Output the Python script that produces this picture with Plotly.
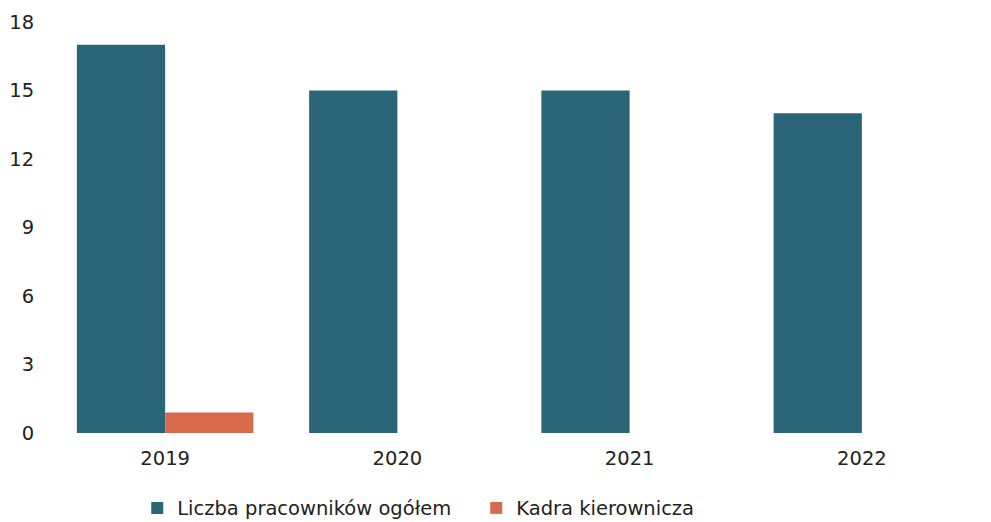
import plotly.graph_objects as go

years = ["2019", "2020", "2021", "2022"]
ogolem = [17, 15, 15, 14]
kadra = [0.9, 0, 0, 0]
y_ticks = [0, 3, 6, 9, 12, 15, 18]

teal = "#2b6678"
orange = "#d8694a"
font_family = "DejaVu Sans, sans-serif"

fig = go.Figure()
fig.add_trace(go.Bar(x=years, y=ogolem, name="Liczba pracowników ogółem",
                     marker=dict(color=teal, line=dict(width=0))))
fig.add_trace(go.Bar(x=years, y=kadra, name="Kadra kierownicza",
                     marker=dict(color=orange, line=dict(width=0))))

fig.update_layout(
    width=991, height=522,
    barmode="group", bargap=0.24, bargroupgap=0,
    plot_bgcolor="white", paper_bgcolor="white",
    margin=dict(l=49, r=13, t=22, b=89, autoexpand=False),
    font=dict(family=font_family, size=19.5, color="#222222"),
    legend=dict(orientation="h", x=0.095, xanchor="left", y=-0.183, yanchor="middle",
                font=dict(size=19.5, color="#222222"),
                entrywidth=294, entrywidthmode="pixels",
                traceorder="normal"),
    showlegend=True,
)
fig.update_xaxes(showgrid=False, showline=False, zeroline=False,
                 ticks="outside", ticklen=8, tickcolor="rgba(0,0,0,0)",
                 tickfont=dict(size=19.5))
fig.update_yaxes(range=[0, 18], tickvals=y_ticks, showgrid=False, showline=False,
                 zeroline=False, ticks="outside", ticklen=10,
                 tickcolor="rgba(0,0,0,0)", tickfont=dict(size=19.5))

fig.write_html("out.html", config={"displayModeBar": False},
               post_script="document.body.style.margin='0';")
